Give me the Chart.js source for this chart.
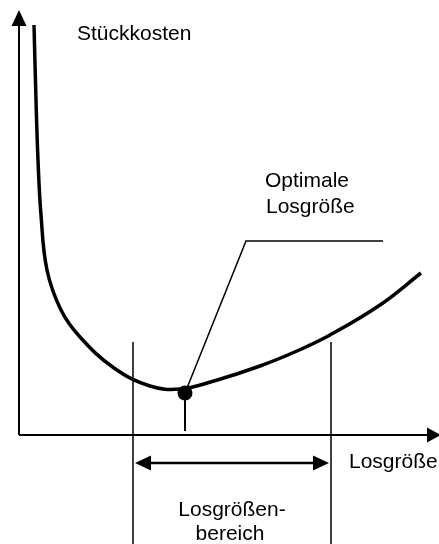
<!DOCTYPE html>
<html>
<head>
<meta charset="utf-8">
<script src="https://cdn.jsdelivr.net/npm/chart.js@4/dist/chart.umd.min.js"></script>
<style>
  html, body { margin: 0; padding: 0; background: #fff; }
  #wrap { width: 439px; height: 544px; position: relative; }
</style>
</head>
<body>
<div id="wrap"><canvas id="chart"></canvas></div>
<script>
// Stückkosten-Kurve (Losgröße -> Stückkosten)
const lotSize = [15, 17, 19, 22, 28, 42, 61, 95, 131, 161, 195, 241, 278, 311, 361, 402];
const unitCost = [410, 335, 275, 220, 165, 125, 98, 67, 49, 46, 54, 69, 84, 100, 130, 162];

// optimale Losgröße and Losgrößenbereich
const optimum = [166, 42];
const lotRange = [114, 312];

const axisMax = [420, 425];

const FONT = '21px "Liberation Sans", Arial, sans-serif';

function arrowHead(ctx, x, y, dx, dy, len, half) {
  // tip at (x,y), pointing along (dx,dy)
  ctx.beginPath();
  ctx.moveTo(x, y);
  ctx.lineTo(x - dx * len - dy * half, y - dy * len + dx * half);
  ctx.lineTo(x - dx * len + dy * half, y - dy * len - dx * half);
  ctx.closePath();
  ctx.fill();
}

const sketch = {
  id: 'sketch',
  beforeDatasetsDraw(chart) {
    const ctx = chart.ctx;
    const xs = chart.scales.x, ys = chart.scales.y;
    const X = v => xs.getPixelForValue(v);
    const Y = v => ys.getPixelForValue(v);
    ctx.save();
    ctx.strokeStyle = '#000';
    ctx.fillStyle = '#000';

    // axes
    ctx.lineWidth = 2;
    ctx.beginPath();
    ctx.moveTo(X(0), Y(0));
    ctx.lineTo(X(0), Y(axisMax[1]) + 10);
    ctx.moveTo(X(0), Y(0));
    ctx.lineTo(X(axisMax[0]) - 8, Y(0));
    ctx.stroke();
    arrowHead(ctx, X(0), Y(axisMax[1]), 0, -1, 16, 7.5);
    arrowHead(ctx, X(axisMax[0]) + 2, Y(0), 1, 0, 14, 7.5);

    // Losgrößenbereich
    ctx.lineWidth = 1.5;
    ctx.beginPath();
    lotRange.forEach(v => {
      ctx.moveTo(X(v), Y(93));
      ctx.lineTo(X(v), Y(-109));
    });
    ctx.stroke();
    ctx.lineWidth = 2.5;
    ctx.beginPath();
    ctx.moveTo(X(lotRange[0]) + 10, Y(-28));
    ctx.lineTo(X(lotRange[1]) - 10, Y(-28));
    ctx.stroke();
    arrowHead(ctx, X(lotRange[0]) + 2, Y(-28), -1, 0, 16, 7.5);
    arrowHead(ctx, X(lotRange[1]) - 2, Y(-28), 1, 0, 16, 7.5);

    // stem under the optimum
    ctx.lineWidth = 2;
    ctx.beginPath();
    ctx.moveTo(X(optimum[0]), Y(optimum[1]));
    ctx.lineTo(X(optimum[0]), Y(4));
    ctx.stroke();

    // leader line to label
    ctx.lineWidth = 1.5;
    ctx.beginPath();
    ctx.moveTo(X(optimum[0]), Y(optimum[1]));
    ctx.lineTo(X(227), Y(194));
    ctx.lineTo(X(364), Y(194));
    ctx.stroke();

    // texts
    ctx.font = FONT;
    ctx.textBaseline = 'alphabetic';
    ctx.textAlign = 'left';
    ctx.fillText('Stückkosten', X(58), Y(395));
    ctx.fillText('Optimale', X(246), Y(248));
    ctx.fillText('Losgröße', X(247), Y(222));
    ctx.fillText('Losgröße', X(330), Y(-33));
    ctx.textAlign = 'center';
    ctx.fillText('Losgrößen-', X(213), Y(-81));
    ctx.fillText('bereich', X(211), Y(-105));
    ctx.restore();
  }
};

new Chart(document.getElementById('chart'), {
  type: 'scatter',
  data: {
    datasets: [
      {
        label: 'Stückkosten',
        data: lotSize.map((x, i) => ({ x: x, y: unitCost[i] })),
        showLine: true,
        borderColor: '#000',
        borderWidth: 3.5,
        pointRadius: 0,
        tension: 0.4,
        clip: false
      },
      {
        label: 'Optimale Losgröße',
        data: [{ x: optimum[0], y: optimum[1] }],
        pointRadius: 7.5,
        pointBackgroundColor: '#000',
        pointBorderWidth: 0,
        clip: false
      }
    ]
  },
  options: {
    responsive: true,
    maintainAspectRatio: false,
    animation: false,
    devicePixelRatio: 1,
    layout: { autoPadding: false, padding: { left: 19, right: 0, top: 0, bottom: 109 } },
    plugins: { legend: { display: false }, tooltip: { enabled: false } },
    scales: {
      x: { type: 'linear', min: 0, max: axisMax[0], display: false },
      y: { type: 'linear', min: 0, max: 435, display: false }
    }
  },
  plugins: [sketch]
});
</script>
</body>
</html>
